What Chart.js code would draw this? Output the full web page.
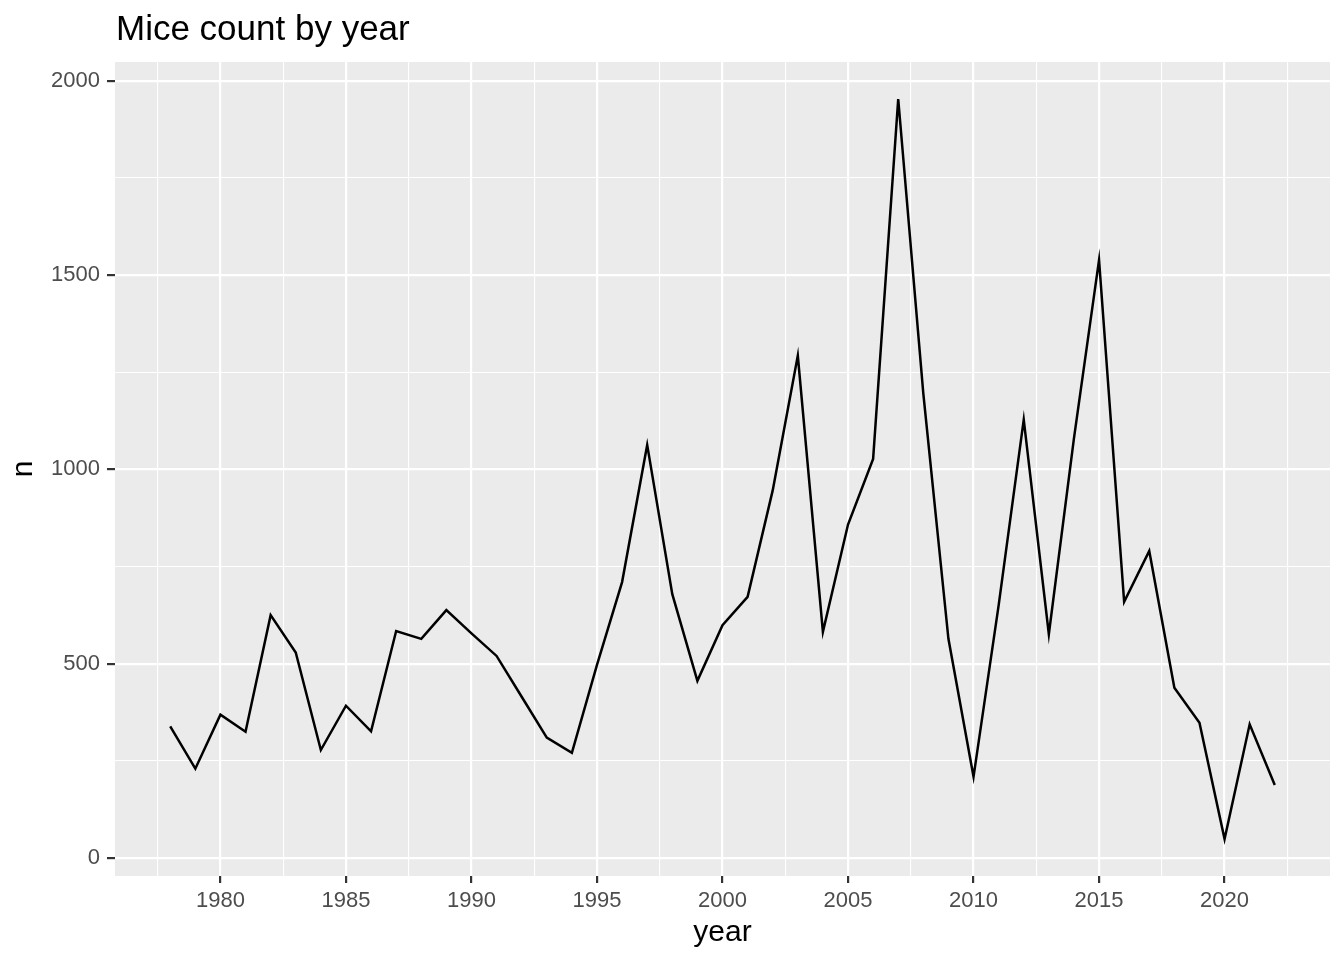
<!DOCTYPE html>
<html>
<head>
<meta charset="utf-8">
<title>Mice count by year</title>
<script src="https://cdn.jsdelivr.net/npm/chart.js@4"></script>
<style>
    html, body { margin: 0; padding: 0; background: #ffffff; }
    #wrap { width: 1344px; height: 960px; }
</style>
</head>
<body>
<div id="wrap"><canvas id="chart" width="1344" height="960"></canvas></div>
<script>
// ============================================
// MICE COUNT BY YEAR - ggplot-style line chart
// ============================================

const chartTitle = 'Mice count by year';
const xTitle = 'year';
const yTitle = 'n';

const years = [
    1978, 1979, 1980, 1981, 1982, 1983, 1984, 1985, 1986, 1987,
    1988, 1989, 1990, 1991, 1992, 1993, 1994, 1995, 1996, 1997,
    1998, 1999, 2000, 2001, 2002, 2003, 2004, 2005, 2006, 2007,
    2008, 2009, 2010, 2011, 2012, 2013, 2014, 2015, 2016, 2017,
    2018, 2019, 2020, 2021, 2022
];

const counts = [
    339, 230, 369, 325, 625, 529, 278, 392, 326, 584,
    564, 638, 578, 520, 415, 310, 271, 497, 710, 1063,
    679, 456, 599, 672, 946, 1293, 582, 858, 1027, 1953,
    1195, 564, 209, 650, 1128, 576, 1080, 1539, 659, 790,
    438, 348, 49, 344, 188
];

// Grid positions (major ones carry labels)
const xTicks = [1977.5, 1980, 1982.5, 1985, 1987.5, 1990, 1992.5, 1995, 1997.5, 2000,
    2002.5, 2005, 2007.5, 2010, 2012.5, 2015, 2017.5, 2020, 2022.5];
const xMajor = [1980, 1985, 1990, 1995, 2000, 2005, 2010, 2015, 2020];
const yTicks = [0, 250, 500, 750, 1000, 1250, 1500, 1750, 2000];
const yMajor = [0, 500, 1000, 1500, 2000];

const FONT = '"Liberation Sans", Arial, Helvetica, sans-serif';

// Panel background + title
const ggPanel = {
    id: 'ggPanel',
    beforeDraw(chart) {
        const { ctx, chartArea: a } = chart;
        ctx.save();
        ctx.fillStyle = '#EBEBEB';
        ctx.fillRect(a.left, a.top, a.right - a.left, a.bottom - a.top);
        ctx.restore();
    },
    afterDraw(chart) {
        const { ctx, chartArea: a } = chart;
        ctx.save();
        ctx.fillStyle = '#000000';
        ctx.font = '35px ' + FONT;
        ctx.textAlign = 'left';
        ctx.textBaseline = 'alphabetic';
        ctx.fillText(chartTitle, a.left + 1, 40);
        ctx.restore();
    }
};

const isMajorX = v => xMajor.includes(v);
const isMajorY = v => yMajor.includes(v);

const data = years.map((y, i) => ({ x: y, y: counts[i] }));

new Chart(document.getElementById('chart').getContext('2d'), {
    type: 'line',
    data: {
        datasets: [{
            label: yTitle,
            data: data,
            borderColor: '#000000',
            borderWidth: 2.5,
            pointRadius: 0,
            tension: 0,
            fill: false
        }]
    },
    options: {
        responsive: false,
        animation: false,
        layout: {
            padding: { top: 62, right: 14, bottom: 0, left: 0 }
        },
        plugins: {
            legend: { display: false },
            tooltip: { enabled: false },
            title: { display: false }
        },
        scales: {
            x: {
                type: 'linear',
                min: 1975.8,
                max: 2024.2,
                afterBuildTicks: scale => {
                    scale.ticks = xTicks.map(v => ({ value: v }));
                },
                afterFit: scale => { scale.height = 84; },
                border: { display: false },
                grid: {
                    color: '#FFFFFF',
                    lineWidth: ctx => isMajorX(ctx.tick.value) ? 2.2 : 1.1,
                    tickColor: ctx => isMajorX(ctx.tick.value) ? '#333333' : 'rgba(0,0,0,0)',
                    tickWidth: 2.2,
                    tickLength: 7
                },
                ticks: {
                    autoSkip: false,
                    maxRotation: 0,
                    padding: 5,
                    color: '#4D4D4D',
                    font: { family: FONT, size: 22 },
                    callback: v => isMajorX(v) ? String(v) : ''
                },
                title: {
                    display: true,
                    text: xTitle,
                    color: '#000000',
                    font: { family: FONT, size: 30 },
                    padding: { top: 0, bottom: 9 }
                }
            },
            y: {
                type: 'linear',
                min: -46.2,
                max: 2048.2,
                afterBuildTicks: scale => {
                    scale.ticks = yTicks.map(v => ({ value: v }));
                },
                afterFit: scale => { scale.width = 115; },
                border: { display: false },
                grid: {
                    color: '#FFFFFF',
                    lineWidth: ctx => isMajorY(ctx.tick.value) ? 2.2 : 1.1,
                    tickColor: ctx => isMajorY(ctx.tick.value) ? '#333333' : 'rgba(0,0,0,0)',
                    tickWidth: 2.2,
                    tickLength: 8
                },
                ticks: {
                    autoSkip: false,
                    padding: 7,
                    color: '#4D4D4D',
                    font: { family: FONT, size: 22 },
                    callback: v => isMajorY(v) ? String(v) : ''
                },
                title: {
                    display: true,
                    text: yTitle,
                    color: '#000000',
                    font: { family: FONT, size: 30 },
                    padding: { top: 6, bottom: 0 }
                }
            }
        }
    },
    plugins: [ggPanel]
});
</script>
</body>
</html>
